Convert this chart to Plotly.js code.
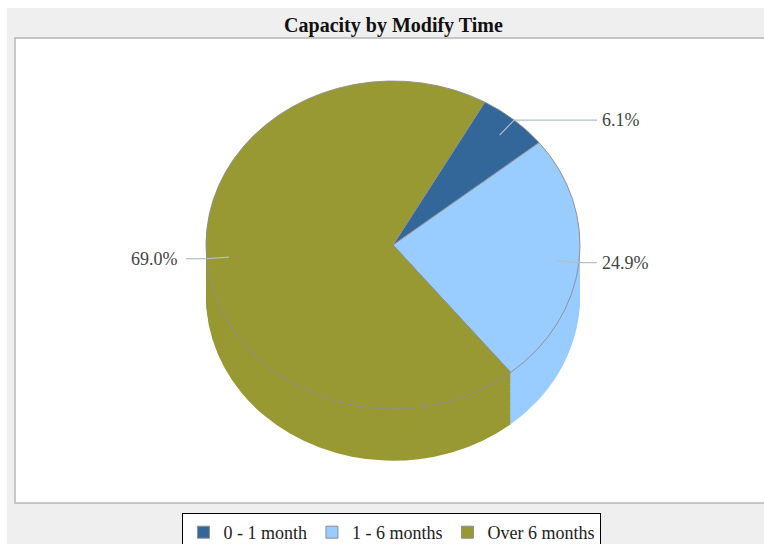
<!DOCTYPE html>
<html><head><meta charset="utf-8">
<script src="https://cdn.plot.ly/plotly-3.0.1.min.js"></script>
<style>html,body{margin:0;padding:0;background:#fff}#chart{width:764px;height:544px}</style>
</head><body><div id="chart"></div>
<script>
const categories = ['0 - 1 month', '1 - 6 months', 'Over 6 months'];
const shares = [6.1, 24.9, 69.0];
const labelTexts = ['6.1%', '24.9%', '69.0%'];
const colors = ['#336699', '#99ccff', '#999933'];
const titleText = 'Capacity by Modify Time';

const W = 764, H = 544;
const cx = 393, cy = 245, r = 187, squash = 0.877, depth = 59, step = 2;
const startAngle = 29.4;
const serif = 'Liberation Serif, Times New Roman, serif';

function pieTrace(d, top) {
  const cyd = cy + d;
  return {
    type: 'pie', labels: categories, values: shares, sort: false,
    direction: 'clockwise', rotation: startAngle,
    marker: {colors: colors, line: {color: top ? '#8f8f8f' : 'rgba(0,0,0,0)', width: top ? 1 : 0}},
    textinfo: 'none', hoverinfo: 'none', showlegend: top,
    domain: {x: [(cx - r) / W, (cx + r) / W], y: [1 - (cyd + r + 10) / H, 1 - (cyd - r - 10) / H]}
  };
}

const data = [];
for (let d = depth; d > 0; d -= step) data.push(pieTrace(d, false));
data.push(pieTrace(0, true));

const px = x => x / W, py = y => 1 - y / H;
const shapes = [
  {type: 'rect', xref: 'paper', yref: 'paper', x0: px(7), x1: 1.01, y0: -0.01, y1: py(8),
   fillcolor: '#efefef', line: {width: 0}, layer: 'below'},
  {type: 'rect', xref: 'paper', yref: 'paper', x0: px(15), x1: 1.01, y0: py(503), y1: py(38),
   fillcolor: '#ffffff', line: {color: '#b8b8b8', width: 1.5}, layer: 'below'}
];
const annotations = [];
const total = shares.reduce((a, b) => a + b, 0);
let acc = startAngle;
shares.forEach((v, i) => {
  const mid = acc + v / total * 180;
  acc += v / total * 360;
  const a = mid * Math.PI / 180;
  const P = f => [cx + r * f * Math.sin(a), cy - r * squash * f * Math.cos(a)];
  const [x1, y1] = P(0.88), [x2, y2] = P(1.0);
  const right = Math.sin(a) >= 0;
  const x3 = right ? cx + r + 17 : cx - r - 20;
  const lc = '#b4bccb';
  shapes.push({type: 'line', xref: 'paper', yref: 'paper', x0: px(x1), y0: py(y1), x1: px(x2), y1: py(y2), line: {color: lc, width: 1.2}});
  shapes.push({type: 'line', xref: 'paper', yref: 'paper', x0: px(x2), y0: py(y2), x1: px(x3), y1: py(y2), line: {color: lc, width: 1.2}});
  annotations.push({xref: 'paper', yref: 'paper', x: px(right ? x3 + 3 : x3 - 6), y: py(y2),
    xanchor: right ? 'left' : 'right', yanchor: 'middle', showarrow: false, text: labelTexts[i],
    font: {family: serif, size: 18, color: '#444'}});
});

const layout = {
  width: W, height: H, margin: {l: 0, r: 0, t: 0, b: 0, autoexpand: false},
  paper_bgcolor: '#ffffff', plot_bgcolor: '#ffffff',
  title: {text: titleText, x: 0.515, xanchor: 'center', xref: 'container', y: py(25), yanchor: 'middle', yref: 'container',
    font: {family: serif, size: 20, color: '#111', weight: 'bold'}},
  showlegend: true,
  legend: {orientation: 'h', xref: 'container', yref: 'container', x: 0.513, xanchor: 'center', y: py(513), yanchor: 'top',
    bgcolor: '#ffffff', bordercolor: '#000000', borderwidth: 1, itemwidth: 30,
    font: {family: serif, size: 18, color: '#222'}},
  shapes: shapes, annotations: annotations, hovermode: false
};

Plotly.newPlot('chart', data, layout, {staticPlot: true, displayModeBar: false}).then(gd => {
  const layer = gd.querySelector('.pielayer');
  if (layer) layer.setAttribute('transform', `translate(0,${cy}) scale(1,${squash}) translate(0,${-cy})`);
});
</script>
</body></html>
